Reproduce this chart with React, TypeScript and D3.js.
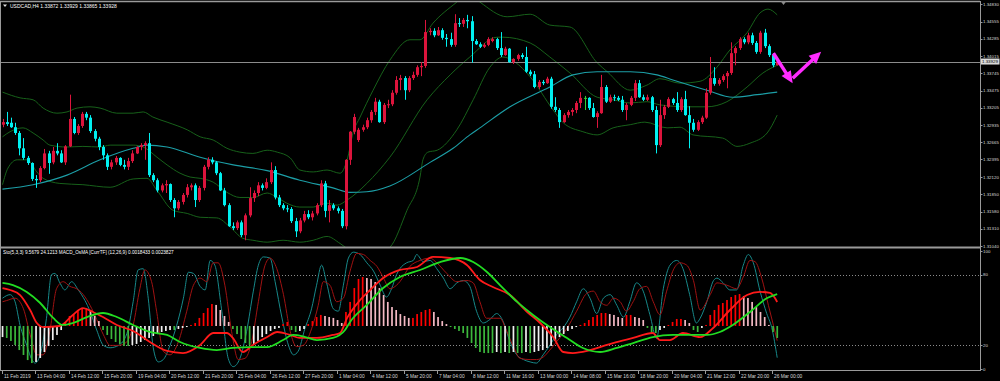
import React from 'react';
import * as d3 from 'd3';

// ---------- DATA ----------
const chartTitle = 'USDCAD,H4  1.33872 1.33929 1.33865 1.33928';
const subTitle = 'Sto(5,3,3) 9.5679 24.1213  MACD_OsMA [CurrTF] (12,26,9) 0.0018433 0.0023827';

const timeLabels = ['11 Feb 2019','13 Feb 04:00','14 Feb 12:00','15 Feb 20:00','19 Feb 04:00','20 Feb 12:00','21 Feb 20:00','25 Feb 04:00','26 Feb 12:00','27 Feb 20:00','1 Mar 04:00','4 Mar 12:00','5 Mar 20:00','7 Mar 04:00','8 Mar 12:00','11 Mar 16:00','13 Mar 00:00','14 Mar 08:00','15 Mar 16:00','18 Mar 20:00','20 Mar 04:00','21 Mar 12:00','22 Mar 20:00','26 Mar 00:00'];
const timeLabelBars = [0,8,16,24,32,40,48,56,64,72,80,88,96,104,112,120,128,136,144,152,160,168,176,184];

const priceTicks = [1.34830,1.34555,1.34285,1.34015,1.33745,1.33475,1.33205,1.32935,1.32665,1.32395,1.32120,1.31850,1.31580,1.31310,1.31040];
const bidPrice = 1.33929;
const stochLevels = [100, 80, 20, 0];
const stochDotted = [80, 20];

const open = [
1.3294,1.3298,1.3297,1.3290,1.3281,1.3257,1.3242,1.3234,1.3209,1.3207,
1.3226,1.3249,1.3235,1.3253,1.3249,1.3235,1.3260,1.3303,1.3281,1.3292,
1.3311,1.3305,1.3284,1.3272,1.3259,1.3246,1.3228,1.3235,1.3242,1.3231,
1.3228,1.3237,1.3249,1.3259,1.3262,1.3265,1.3215,1.3207,1.3191,1.3199,
1.3201,1.3176,1.3163,1.3173,1.3184,1.3196,1.3199,1.3176,1.3195,1.3228,
1.3239,1.3235,1.3218,1.3191,1.3168,1.3135,1.3132,1.3141,1.3121,1.3152,
1.3179,1.3187,1.3199,1.3195,1.3204,1.3223,1.3180,1.3168,1.3163,1.3162,
1.3143,1.3127,1.3144,1.3154,1.3149,1.3155,1.3168,1.3202,1.3159,1.3168,
1.3163,1.3159,1.3135,1.3239,1.3283,1.3270,1.3286,1.3290,1.3301,1.3314,
1.3330,1.3298,1.3325,1.3326,1.3344,1.3364,1.3367,1.3348,1.3367,1.3372,
1.3384,1.3386,1.3439,1.3441,1.3434,1.3442,1.3430,1.3428,1.3419,1.3453,
1.3452,1.3458,1.3456,1.3425,1.3420,1.3416,1.3419,1.3425,1.3428,1.3414,
1.3403,1.3413,1.3392,1.3397,1.3403,1.3400,1.3377,1.3373,1.3353,1.3361,
1.3359,1.3366,1.3322,1.3317,1.3298,1.3309,1.3314,1.3317,1.3328,1.3336,
1.3336,1.3320,1.3306,1.3312,1.3353,1.3330,1.3337,1.3336,1.3333,1.3317,
1.3325,1.3336,1.3359,1.3337,1.3333,1.3337,1.3317,1.3262,1.3309,1.3322,
1.3334,1.3328,1.3317,1.3334,1.3309,1.3297,1.3286,1.3298,1.3305,1.3344,
1.3367,1.3358,1.3364,1.3370,1.3375,1.3406,1.3414,1.3428,1.3423,1.3434,
1.3422,1.3408,1.3438,1.3417,1.3403,1.33872];

const high = [
1.3303,1.3314,1.3305,1.3297,1.3284,1.3273,1.3245,1.3235,1.3215,1.3229,
1.3256,1.3253,1.3259,1.3265,1.3254,1.3262,1.3341,1.3306,1.3295,1.3314,
1.3314,1.3309,1.3287,1.3275,1.3262,1.3249,1.3239,1.3245,1.3243,1.3239,
1.3242,1.3254,1.3260,1.3265,1.3268,1.3281,1.3218,1.3210,1.3202,1.3207,
1.3202,1.3179,1.3176,1.3187,1.3201,1.3202,1.3202,1.3198,1.3231,1.3243,
1.3243,1.3237,1.3220,1.3195,1.3171,1.3141,1.3144,1.3144,1.3155,1.3196,
1.3191,1.3204,1.3202,1.3210,1.3235,1.3229,1.3184,1.3171,1.3168,1.3165,
1.3148,1.3148,1.3159,1.3160,1.3159,1.3171,1.3207,1.3206,1.3176,1.3171,
1.3166,1.3162,1.3240,1.3284,1.3311,1.3289,1.3294,1.3305,1.3317,1.3336,
1.3333,1.3328,1.3333,1.3348,1.3370,1.3372,1.3370,1.3370,1.3377,1.3387,
1.3392,1.3458,1.3445,1.3445,1.3447,1.3445,1.3436,1.3438,1.3467,1.3461,
1.3461,1.3466,1.3464,1.3428,1.3423,1.3422,1.3431,1.3431,1.3430,1.3439,
1.3416,1.3414,1.3398,1.3405,1.3406,1.3416,1.3380,1.3378,1.3364,1.3364,
1.3369,1.3369,1.3337,1.3320,1.3312,1.3317,1.3320,1.3331,1.3345,1.3339,
1.3337,1.3328,1.3315,1.3372,1.3356,1.3341,1.3341,1.3339,1.3339,1.3328,
1.3339,1.3364,1.3364,1.3341,1.3341,1.3339,1.3323,1.3333,1.3325,1.3337,
1.3336,1.3345,1.3337,1.3347,1.3323,1.3303,1.3301,1.3308,1.3351,1.3400,
1.3384,1.3367,1.3373,1.3378,1.3423,1.3417,1.3431,1.3431,1.3438,1.3438,
1.3425,1.3441,1.3444,1.3420,1.3406,1.33929];

const low = [
1.3290,1.3292,1.3289,1.3278,1.3246,1.3239,1.3231,1.3206,1.3195,1.3204,
1.3224,1.3217,1.3232,1.3246,1.3234,1.3231,1.3259,1.3279,1.3278,1.3289,
1.3301,1.3281,1.3268,1.3254,1.3239,1.3223,1.3224,1.3231,1.3229,1.3224,
1.3223,1.3234,1.3248,1.3254,1.3239,1.3212,1.3204,1.3188,1.3188,1.3187,
1.3173,1.3149,1.3160,1.3169,1.3180,1.3191,1.3165,1.3173,1.3191,1.3224,
1.3232,1.3215,1.3190,1.3166,1.3134,1.3129,1.3129,1.3118,1.3113,1.3149,
1.3173,1.3182,1.3191,1.3193,1.3201,1.3177,1.3165,1.3160,1.3157,1.3140,
1.3118,1.3124,1.3141,1.3146,1.3144,1.3152,1.3165,1.3149,1.3141,1.3160,
1.3155,1.3132,1.3130,1.3231,1.3279,1.3267,1.3283,1.3287,1.3297,1.3309,
1.3297,1.3295,1.3320,1.3323,1.3341,1.3348,1.3333,1.3345,1.3364,1.3369,
1.3370,1.3383,1.3434,1.3431,1.3433,1.3427,1.3416,1.3416,1.3416,1.3447,
1.3447,1.3445,1.3391,1.3419,1.3414,1.3414,1.3417,1.3423,1.3411,1.3400,
1.3402,1.3391,1.3389,1.3394,1.3397,1.3375,1.3370,1.3351,1.3350,1.3356,
1.3358,1.3319,1.3314,1.3289,1.3297,1.3305,1.3308,1.3312,1.3320,1.3317,
1.3317,1.3305,1.3289,1.3311,1.3328,1.3328,1.3331,1.3331,1.3314,1.3301,
1.3323,1.3331,1.3336,1.3331,1.3331,1.3314,1.3249,1.3259,1.3303,1.3320,
1.3325,1.3314,1.3314,1.3308,1.3257,1.3283,1.3284,1.3295,1.3303,1.3341,
1.3355,1.3355,1.3361,1.3351,1.3372,1.3387,1.3411,1.3420,1.3420,1.3419,
1.3405,1.3405,1.3414,1.3400,1.3384,1.33865];

const close = [
1.3298,1.3295,1.3290,1.3281,1.3257,1.3242,1.3234,1.3209,1.3207,1.3226,
1.3249,1.3234,1.3253,1.3249,1.3235,1.3260,1.3303,1.3281,1.3292,1.3311,
1.3305,1.3284,1.3272,1.3259,1.3246,1.3228,1.3235,1.3242,1.3231,1.3228,
1.3237,1.3249,1.3259,1.3262,1.3265,1.3215,1.3207,1.3191,1.3199,1.3201,
1.3176,1.3163,1.3173,1.3184,1.3196,1.3199,1.3176,1.3195,1.3228,1.3239,
1.3235,1.3218,1.3191,1.3168,1.3135,1.3132,1.3141,1.3121,1.3152,1.3179,
1.3187,1.3199,1.3195,1.3204,1.3223,1.3180,1.3168,1.3163,1.3162,1.3143,
1.3127,1.3144,1.3154,1.3149,1.3155,1.3168,1.3202,1.3159,1.3168,1.3163,
1.3159,1.3135,1.3239,1.3283,1.3306,1.3286,1.3290,1.3301,1.3314,1.3330,
1.3298,1.3325,1.3326,1.3344,1.3364,1.3367,1.3348,1.3367,1.3372,1.3384,
1.3386,1.3439,1.3441,1.3434,1.3442,1.3430,1.3428,1.3419,1.3453,1.3452,
1.3458,1.3456,1.3425,1.3420,1.3416,1.3419,1.3428,1.3428,1.3414,1.3403,
1.3413,1.3392,1.3397,1.3403,1.3400,1.3377,1.3373,1.3353,1.3361,1.3359,
1.3366,1.3322,1.3317,1.3298,1.3309,1.3314,1.3317,1.3328,1.3336,1.3336,
1.3320,1.3306,1.3312,1.3353,1.3330,1.3337,1.3336,1.3333,1.3317,1.3325,
1.3336,1.3359,1.3337,1.3333,1.3337,1.3317,1.3262,1.3309,1.3322,1.3334,
1.3328,1.3317,1.3334,1.3309,1.3297,1.3286,1.3298,1.3305,1.3344,1.3367,
1.3358,1.3364,1.3370,1.3375,1.3406,1.3414,1.3428,1.3423,1.3434,1.3422,
1.3408,1.3438,1.3417,1.3403,1.3387,1.33928];

// Indicator lines: [bar index, value]
const bbUpper: [number, number][] = [[0,1.3345],[4.2,1.3336],[7.3,1.3333],[9.7,1.3320],[13,1.3312],[15.4,1.3314],[17.8,1.3320],[20.9,1.3322],[23.3,1.3320],[27.3,1.3312],[31.2,1.3312],[33.6,1.3314],[35.9,1.3306],[39.3,1.3298],[44.1,1.3286],[47.2,1.3275],[50.3,1.3270],[53.6,1.3257],[56.7,1.3251],[59.8,1.3249],[63.2,1.3254],[65.6,1.3251],[68.7,1.3242],[71,1.3223],[74.2,1.3220],[77.5,1.3223],[80.6,1.3218],[82.3,1.3239],[83.7,1.3281],[85.4,1.3306],[88.5,1.3348],[92.5,1.3395],[97.3,1.3427],[99.7,1.3427],[102.8,1.3453],[108.5,1.3486],[111.2,1.3500],[114,1.3486],[120.5,1.3463],[126,1.3467],[130.7,1.3450],[135.5,1.3447],[142,1.3391],[144.4,1.3377],[149.9,1.3348],[153.9,1.3356],[157,1.3366],[161.8,1.3359],[166.6,1.3362],[170.6,1.3384],[173.7,1.3411],[177.8,1.3438],[180.9,1.3469],[182.8,1.3475],[185,1.3466]];
const bbMiddle: [number, number][] = [[0,1.3275],[1.8,1.3283],[4.9,1.3289],[7.3,1.3281],[9.7,1.3270],[11.3,1.3262],[15.4,1.3259],[19.2,1.3260],[23.3,1.3259],[25.7,1.3262],[31.2,1.3262],[33.6,1.3259],[36.9,1.3243],[39.3,1.3231],[42.4,1.3218],[44.8,1.3212],[47.2,1.3210],[50.3,1.3204],[53.6,1.3188],[56.7,1.3180],[59.8,1.3180],[63.2,1.3187],[65.6,1.3180],[67.9,1.3171],[71,1.3165],[74.2,1.3165],[77.5,1.3171],[79.9,1.3168],[82.3,1.3176],[87,1.3202],[92.5,1.3243],[101.4,1.3333],[106.9,1.3372],[111.6,1.3400],[118.1,1.3431],[119.5,1.3431],[126,1.3422],[130.7,1.3400],[135.5,1.3375],[142,1.3337],[145.8,1.3333],[149.9,1.3328],[153.9,1.3330],[157,1.3325],[163.5,1.3322],[168.2,1.3322],[173,1.3330],[177.8,1.3353],[181.6,1.3375],[185,1.3387]];
const bbLower: [number, number][] = [[0,1.3200],[1.3,1.3226],[3.5,1.3239],[5.9,1.3239],[8.2,1.3220],[9.7,1.3210],[13.7,1.3202],[19.2,1.3200],[25.7,1.3196],[31.2,1.3209],[34.5,1.3210],[36.9,1.3191],[40.7,1.3160],[44.1,1.3155],[47.2,1.3149],[51.2,1.3148],[54.3,1.3134],[57.4,1.3116],[59.8,1.3113],[63.2,1.3110],[67,1.3113],[71,1.3110],[74.2,1.3113],[77.5,1.3119],[80.6,1.3108],[83,1.3097],[87.8,1.3088],[92.5,1.3102],[96.6,1.3160],[99.7,1.3212],[100.4,1.3239],[101.6,1.3251],[103.8,1.3254],[108.5,1.3286],[112.4,1.3333],[116.4,1.3384],[119.5,1.3400],[122.4,1.3392],[126,1.3369],[131.5,1.3317],[133.9,1.3297],[138.6,1.3283],[142,1.3278],[145.8,1.3289],[149.9,1.3294],[153.4,1.3298],[158.7,1.3289],[161.8,1.3290],[164.9,1.3278],[172,1.3273],[175.4,1.3260],[178.5,1.3265],[182.6,1.3281],[185,1.3309]];
const maLine: [number, number][] = [[0,1.3193],[7.3,1.3200],[15.4,1.3215],[23.3,1.3239],[31.2,1.3257],[34.5,1.3262],[39.3,1.3259],[47.2,1.3243],[55.1,1.3231],[63.2,1.3222],[71,1.3207],[78.9,1.3195],[83,1.3188],[87,1.3189],[92.5,1.3198],[102.1,1.3235],[107.6,1.3257],[111.6,1.3278],[114,1.3289],[121.2,1.3322],[130.7,1.3353],[136.2,1.3372],[142,1.3377],[149.9,1.3377],[156.3,1.3372],[160.1,1.3364],[168.2,1.3348],[174.4,1.3337],[180.2,1.3341],[185,1.3345]];

const stochMain: [number, number][] = [[0,60],[1.8,63],[3,57],[4.2,37],[5.8,20],[7,8],[7.8,5],[9,12],[10.5,43],[11.7,80],[12.5,81],[13.7,73],[14.9,67],[16.5,74],[18.1,67],[19.7,58],[20.9,49],[22.5,33],[24.1,20],[25.7,18],[27.7,20],[29.7,30],[31.2,57],[32.4,84],[33.6,85],[34.8,60],[36,18],[37.2,6],[38.4,8],[40,20],[41.6,37],[43.2,60],[44.4,82],[45.6,81],[47.2,70],[48.4,67],[49.6,92],[50.7,88],[52.3,51],[53.9,9],[55.1,2],[56.7,9],[58.3,32],[59.9,66],[61.1,88],[62.3,95],[63.9,94],[65.1,74],[66.7,44],[68.3,20],[69.5,12],[70.6,15],[72.2,34],[73.8,51],[75,71],[76.2,88],[77.4,73],[79,51],[80.2,49],[81.4,71],[82.6,94],[83.8,99],[85.4,97],[87,90],[88.6,83],[90.2,71],[91.7,61],[92.9,68],[94.1,80],[94.9,85],[96.5,90],[98.1,92],[98.9,97],[100.5,91],[102.1,92],[103.7,85],[105.3,77],[106.9,68],[108.5,73],[110.1,75],[111.6,70],[113.2,49],[114.8,39],[116.4,42],[118,47],[119.6,40],[121.2,23],[122.8,12],[124.4,8],[126,6],[127.5,5],[129.1,12],[130.7,20],[132.3,29],[133.9,35],[135.5,44],[137.1,57],[138.7,68],[140.3,60],[141.9,47],[143.5,60],[145.1,63],[146.7,54],[148.3,44],[149.8,57],[151.4,73],[153,66],[154.6,46],[156.2,26],[157.8,68],[159.4,88],[161,92],[162.5,85],[164.1,63],[165.7,39],[166.6,43],[168.2,57],[169.8,75],[170.6,77],[172.1,73],[173.7,67],[175.3,67],[176.9,88],[178.1,97],[179.3,90],[180.9,66],[182.5,47],[183.7,35],[185,9.6]];
const stochSignal: [number, number][] = [[0,57],[1,58],[3,60],[5,51],[6.6,29],[8.2,12],[9.7,12],[11.3,32],[12.9,68],[14.5,74],[16.1,70],[17.7,68],[19.3,63],[20.9,54],[22.5,42],[24.1,29],[25.7,20],[27.7,20],[29.7,23],[31.2,37],[32.8,68],[34,84],[35.6,74],[36.8,49],[38.4,15],[40,12],[42,23],[44,49],[45.6,71],[47.2,77],[48.8,74],[50.3,90],[51.5,90],[53.1,71],[54.7,32],[56.3,8],[57.9,9],[59.5,23],[61.1,57],[62.7,88],[63.9,94],[65.5,85],[67.1,63],[68.7,32],[70.2,19],[71.8,20],[73.8,34],[75.4,54],[76.6,74],[78.2,71],[79.8,57],[81.4,60],[83,83],[84.6,98],[86.2,97],[87.8,92],[89.4,87],[91,77],[92.5,68],[94.1,71],[94.9,74],[97.3,87],[99.7,92],[102.1,94],[103.7,90],[106.1,81],[108.5,74],[110.9,75],[112.4,73],[114,57],[115.6,43],[117.2,43],[118.8,43],[120.4,32],[122,19],[123.6,9],[126,8],[127.5,8],[129.1,10],[130.7,16],[132.3,23],[134.7,34],[137.1,49],[139.5,64],[141.1,66],[142.7,57],[144.3,54],[145.9,60],[147.5,57],[149,49],[150.6,57],[152.2,68],[153.8,70],[155.4,57],[157,46],[158.6,66],[160.2,84],[161.8,90],[163.4,88],[165,75],[166.6,50],[169,63],[170.6,73],[173,71],[175.3,68],[176.9,78],[178.5,92],[179.7,91],[181.3,77],[182.9,54],[184.1,37],[185,24]];

const macdMain: [number, number][] = [[0,0.00292],[1.8,0.00277],[4.2,0.00238],[6.6,0.00123],[8.2,0.00023],[9.7,-0.00008],[13.7,0],[16.8,0.00085],[19.2,0.00138],[21.6,0.00108],[24,0.00069],[27.3,0.00008],[31.2,-0.00038],[35.2,-0.00123],[39.3,-0.00192],[43.1,-0.00208],[47.2,-0.00146],[50.3,-0.00054],[53.6,-0.00054],[55,-0.00092],[57.4,-0.00200],[59.8,-0.00146],[63.2,-0.00085],[65.6,-0.00046],[68.7,-0.00069],[71,-0.00092],[75.1,-0.00092],[78.9,-0.00069],[80.6,-0.00054],[82.3,0.00062],[85.4,0.00200],[87.8,0.00277],[90.9,0.00369],[94.9,0.00431],[99,0.00454],[102.8,0.00531],[106.9,0.00523],[110.9,0.00469],[114,0.00354],[117.1,0.00300],[121.2,0.00238],[125.3,0.00108],[128.4,0.00023],[131.5,-0.00085],[133.9,-0.00200],[136.2,-0.00208],[139.6,-0.00192],[142.7,-0.00162],[145.8,-0.00131],[150.6,-0.00092],[155.3,-0.00054],[157,-0.00108],[159.4,-0.00108],[162.5,-0.00054],[166.6,-0.00085],[169.7,-0.00015],[173.7,0.00123],[177.8,0.00238],[180.9,0.00262],[183.3,0.00254],[185,0.00185]];
const macdSignal: [number, number][] = [[0,0.00331],[2.5,0.00315],[5.8,0.00262],[9,0.00177],[12.1,0.00062],[14.4,0.00008],[16.8,0.00023],[20.2,0.00069],[24,0.00100],[27.3,0.00069],[31.2,0.00008],[35.2,-0.00046],[39.3,-0.00069],[42.4,-0.00123],[47.2,-0.00169],[51.2,-0.00185],[55,-0.00169],[59.1,-0.00162],[63.2,-0.00162],[67,-0.00108],[69.4,-0.00069],[72.3,-0.00085],[75.1,-0.00108],[78.9,-0.00092],[81.8,-0.00031],[83,0.00031],[87,0.00162],[90.9,0.00292],[94.9,0.00377],[99.7,0.00431],[104.5,0.00492],[109.3,0.00523],[112.4,0.00492],[115.7,0.00415],[118.8,0.00315],[122.9,0.00185],[126.7,0.00085],[130.7,-0.00008],[134.8,-0.00092],[138.6,-0.00169],[142.7,-0.00200],[146.7,-0.00169],[150.6,-0.00131],[155.3,-0.00085],[160.1,-0.00069],[164.9,-0.00069],[168.2,-0.00069],[171.3,-0.00046],[174.4,0.00008],[178.5,0.00108],[182.6,0.00215],[185,0.00246]];

const osma = [
-0.00085,-0.00092,-0.00115,-0.00146,-0.00185,-0.00223,-0.00262,-0.00285,-0.00277,-0.00246,
-0.00200,-0.00154,-0.00108,-0.00069,-0.00031,0.00031,0.00077,0.00092,0.00115,0.00131,
0.00138,0.00115,0.00077,0.00038,-0.00031,-0.00069,-0.00100,-0.00123,-0.00138,-0.00154,
-0.00154,-0.00146,-0.00138,-0.00123,-0.00108,-0.00092,-0.00077,-0.00062,-0.00046,-0.00038,
-0.00031,-0.00031,-0.00023,-0.00015,-0.00008,0.00008,0.00023,0.00062,0.00100,0.00138,
0.00169,0.00162,0.00123,0.00077,0.00031,-0.00023,-0.00062,-0.00100,-0.00131,-0.00146,
-0.00138,-0.00115,-0.00085,-0.00062,-0.00038,-0.00023,-0.00015,0.00015,0.00031,-0.00031,
-0.00046,-0.00038,-0.00023,0.00015,0.00038,0.00069,0.00085,0.00077,0.00069,0.00062,
0.00046,0.00023,0.00108,0.00185,0.00292,0.00362,0.00377,0.00369,0.00362,0.00338,
0.00292,0.00238,0.00185,0.00146,0.00123,0.00092,0.00077,0.00062,0.00062,0.00092,
0.00108,0.00123,0.00131,0.00108,0.00069,0.00038,0.00015,-0.00008,-0.00023,-0.00038,
-0.00054,-0.00092,-0.00131,-0.00169,-0.00200,-0.00208,-0.00208,-0.00208,-0.00200,-0.00208,
-0.00200,-0.00208,-0.00200,-0.00208,-0.00208,-0.00200,-0.00208,-0.00200,-0.00192,-0.00185,
-0.00169,-0.00154,-0.00115,-0.00085,-0.00062,-0.00038,-0.00023,-0.00008,0.00008,0.00023,
0.00046,0.00069,0.00085,0.00100,0.00100,0.00092,0.00085,0.00069,0.00062,0.00085,
0.00085,0.00069,0.00062,0.00046,-0.00015,-0.00054,-0.00054,-0.00031,-0.00015,0.00008,
0.00031,0.00054,0.00054,0.00046,0.00023,-0.00031,-0.00046,-0.00015,0.00008,0.00085,
0.00123,0.00162,0.00177,0.00200,0.00223,0.00238,0.00246,0.00231,0.00215,0.00185,
0.00146,0.00108,0.00069,0.00008,-0.00046,-0.00092];

// forecast arrows drawn on the chart: [bar, price] start and end
const arrowStarts: [number, number][] = [[184.1, 1.34058], [188.7, 1.33667]];
const arrowEnds: [number, number][] = [[188.7, 1.33589], [195.5, 1.34083]];

// ---------- STYLE ----------
const C_BG = '#000000';
const C_FRAME = '#9a9a9a';
const C_TEXT = '#d8d8d8';
const C_UP = '#dc143c';
const C_DOWN = '#00f0f0';
const C_DOJI = '#32cd32';
const C_BB = '#17611a';
const C_MA = '#1c9ea6';
const C_STO_MAIN = '#17898a';
const C_STO_SIG = '#a01212';
const C_MACD = '#ff1a1a';
const C_SIG = '#22dd22';
const C_H_UP = '#ff0000';
const C_H_UPFALL = '#f4b9c4';
const C_H_DN = '#3cb83c';
const C_H_DNRISE = '#f0f0f0';
const C_ARROW = '#ff2cff';
const FONT = '"Liberation Sans", Arial, sans-serif';

export default function App() {
  const N = close.length;
  const AX = 980;
  const MAIN_T = 2, MAIN_B = 247, SUB_T = 249, SUB_B = 370;

  const x = d3.scaleLinear().domain([0, 185]).range([2.5, 777.2]);
  const y = d3.scaleLinear().domain([1.3104, 1.3483]).range([246, 4]);
  const sy = d3.scaleLinear().domain([0, 100]).range([369, 251]);
  const my = d3.scaleLinear().domain([0, 0.005]).range([326, 261]);

  const pLine = d3.line<[number, number]>().x(d => x(d[0])).y(d => y(d[1])).curve(d3.curveMonotoneX);
  const sLine = d3.line<[number, number]>().x(d => x(d[0])).y(d => sy(d[1])).curve(d3.curveMonotoneX);
  const mLine = d3.line<[number, number]>().x(d => x(d[0])).y(d => my(d[1])).curve(d3.curveMonotoneX);

  const candles = d3.range(N).map(i => {
    const o = open[i], c = close[i], h = high[i], l = low[i];
    const col = c > o ? C_UP : c < o ? C_DOWN : C_DOJI;
    const cx = Math.round(x(i));
    const yTop = y(Math.max(o, c)), yBot = y(Math.min(o, c));
    return (
      <g key={i}>
        <line x1={cx + 0.5} x2={cx + 0.5} y1={y(h)} y2={y(l)} stroke={col} strokeWidth={1} />
        <rect x={cx - 1} y={yTop} width={3} height={Math.max(1, yBot - yTop)} fill={col} />
      </g>
    );
  });

  const bars = d3.range(osma.length).map(i => {
    const v = osma[i];
    const p = i > 0 ? osma[i - 1] : -Infinity;
    let col;
    if (v >= 0) col = v >= p ? C_H_UP : C_H_UPFALL;
    else col = v <= p ? C_H_DN : C_H_DNRISE;
    const y0 = my(0), y1 = my(v);
    return <rect key={i} x={x(i) - 0.8} y={Math.min(y0, y1)} width={1.7} height={Math.abs(y1 - y0)} fill={col} />;
  });

  const arrows = arrowStarts.map((s, k) => {
    const e = arrowEnds[k];
    const x1 = x(s[0]), y1 = y(s[1]), x2 = x(e[0]), y2 = y(e[1]);
    const dx = x2 - x1, dy = y2 - y1, L = Math.hypot(dx, dy);
    const ux = dx / L, uy = dy / L, hl = 12, hw = 5.5;
    const bx = x2 - ux * hl, by = y2 - uy * hl;
    const px = -uy, py = ux;
    return (
      <g key={k}>
        <line x1={x1} y1={y1} x2={bx + ux * 2} y2={by + uy * 2} stroke={C_ARROW} strokeWidth={3.5} />
        <path d={`M${x2},${y2}L${bx + px * hw},${by + py * hw}L${bx - px * hw},${by - py * hw}Z`} fill={C_ARROW} />
      </g>
    );
  });

  const AXFS = 4.4;

  return (
    <svg width={1000} height={381} style={{ position: 'fixed', left: 0, top: 0, display: 'block', background: C_BG }}
      fontFamily={FONT}>
      <defs>
        <clipPath id="mainClip"><rect x={0} y={MAIN_T} width={AX} height={MAIN_B - MAIN_T} /></clipPath>
        <clipPath id="subClip"><rect x={0} y={SUB_T} width={AX} height={SUB_B - SUB_T} /></clipPath>
      </defs>
      <rect x={0} y={0} width={1000} height={381} fill={C_BG} />

      {/* main panel */}
      <g clipPath="url(#mainClip)">
        <path d={pLine(bbUpper) || ''} fill="none" stroke={C_BB} strokeWidth={1} />
        <path d={pLine(bbMiddle) || ''} fill="none" stroke={C_BB} strokeWidth={1} />
        <path d={pLine(bbLower) || ''} fill="none" stroke={C_BB} strokeWidth={1} />
        <path d={pLine(maLine) || ''} fill="none" stroke={C_MA} strokeWidth={1.1} />
        <line x1={0} x2={AX} y1={Math.round(y(bidPrice)) + 0.5} y2={Math.round(y(bidPrice)) + 0.5} stroke="#8c8c8c" strokeWidth={1} />
        {candles}
        {arrows}
      </g>

      {/* sub panel */}
      <g clipPath="url(#subClip)">
        {stochDotted.map(v => (
          <line key={v} x1={0} x2={AX} y1={Math.round(sy(v)) + 0.5} y2={Math.round(sy(v)) + 0.5} stroke="#8a8a8a" strokeWidth={1} strokeDasharray="1,2" />
        ))}
        <path d={sLine(stochMain) || ''} fill="none" stroke={C_STO_MAIN} strokeWidth={1} />
        <path d={sLine(stochSignal) || ''} fill="none" stroke={C_STO_SIG} strokeWidth={1} />
        {bars}
        <path d={mLine(macdMain) || ''} fill="none" stroke={C_MACD} strokeWidth={1.8} />
        <path d={mLine(macdSignal) || ''} fill="none" stroke={C_SIG} strokeWidth={1.8} />
      </g>

      {/* frames */}
      <line x1={0} x2={AX} y1={1.5} y2={1.5} stroke={C_FRAME} strokeWidth={1.5} />
      <line x1={0} x2={AX} y1={247.5} y2={247.5} stroke={C_FRAME} strokeWidth={2} />
      <line x1={0} x2={AX} y1={370.5} y2={370.5} stroke={C_FRAME} strokeWidth={1} />
      <line x1={0.5} x2={0.5} y1={1} y2={371} stroke={C_FRAME} strokeWidth={1} />
      <line x1={AX + 0.5} x2={AX + 0.5} y1={1} y2={371} stroke={C_FRAME} strokeWidth={1} />

      {/* chart shift marker */}
      <path d="M780.5,1 L786.5,1 L783.5,5 Z" fill="#8a8a8a" />

      {/* price axis */}
      {priceTicks.map(p => (
        <g key={p}>
          <line x1={AX} x2={AX + 2.5} y1={Math.round(y(p)) + 0.5} y2={Math.round(y(p)) + 0.5} stroke={C_FRAME} />
          <text x={AX + 3} y={Math.max(y(p) + 1.6, 5.2)} fontSize={AXFS} fill={C_TEXT}>{p.toFixed(5)}</text>
        </g>
      ))}
      <rect x={AX + 1} y={y(bidPrice) - 3} width={18.5} height={6} fill="#d9d9d9" />
      <text x={AX + 2} y={y(bidPrice) + 1.6} fontSize={AXFS} fill="#000">{bidPrice.toFixed(5)}</text>

      {/* stochastic axis */}
      {stochLevels.map(v => (
        <g key={v}>
          <line x1={AX} x2={AX + 2.5} y1={Math.round(sy(v)) + 0.5} y2={Math.round(sy(v)) + 0.5} stroke={C_FRAME} />
          <text x={AX + 3} y={sy(v) + 1.6} fontSize={AXFS} fill={C_TEXT}>{v}</text>
        </g>
      ))}

      {/* time axis */}
      {timeLabels.map((t, k) => {
        const tx = Math.round(x(timeLabelBars[k])) - 0.5;
        return (
          <g key={t}>
            <line x1={tx} x2={tx} y1={371} y2={374} stroke={C_FRAME} />
            <text x={tx + 1.5} y={377.5} fontSize={4.8} fill={C_TEXT}>{t}</text>
          </g>
        );
      })}

      {/* titles */}
      <path d="M3,4.5 L7,4.5 L5,7 Z" fill="#e0e0e0" />
      <text x={10} y={8} fontSize={5} fill="#ffffff">{chartTitle}</text>
      <text x={3} y={253.8} fontSize={4.7} fill="#ffffff">{subTitle}</text>
    </svg>
  );
}
